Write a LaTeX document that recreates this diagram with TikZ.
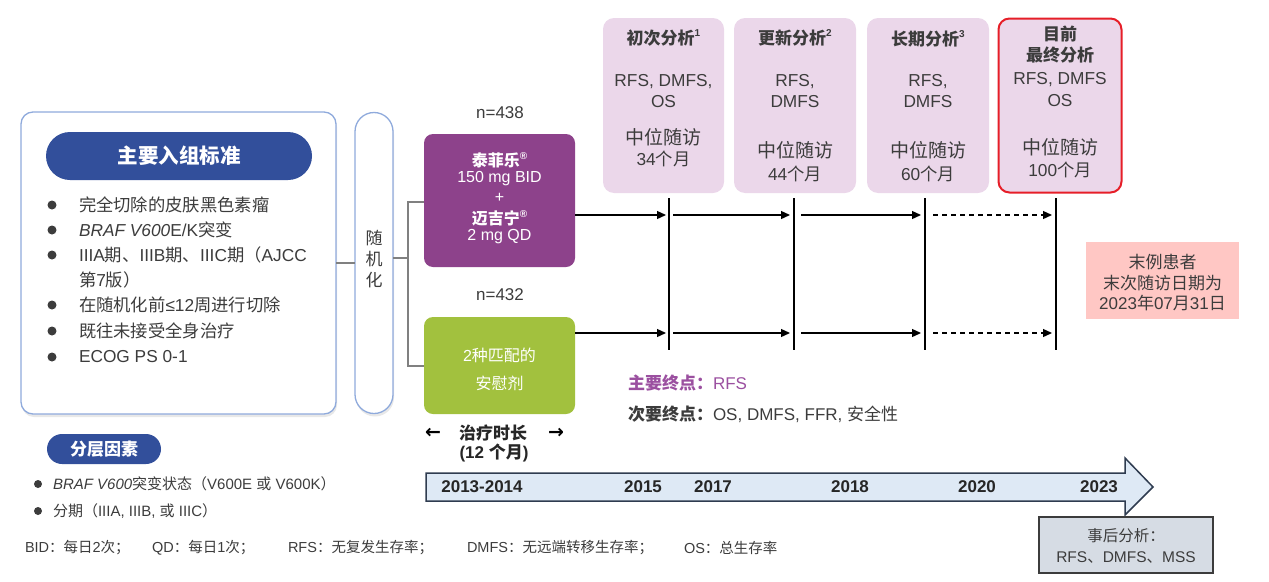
\documentclass[tikz,border=0pt]{standalone}
\usepackage{fontspec}
\setmainfont{Liberation Sans}
\newfontfamily\cjkfont{Noto Sans CJK SC}
\newfontfamily\symfont{DejaVu Sans}
\XeTeXinterchartokenstate=1
\newXeTeXintercharclass\cjkclass
\newcount\cjkcnt
\cjkcnt="3000 \loop\XeTeXcharclass\cjkcnt=\cjkclass\advance\cjkcnt by 1 \ifnum\cjkcnt<"3040 \repeat
\cjkcnt="4E00 \loop\XeTeXcharclass\cjkcnt=\cjkclass\advance\cjkcnt by 1 \ifnum\cjkcnt<"A000 \repeat
\cjkcnt="FF00 \loop\XeTeXcharclass\cjkcnt=\cjkclass\advance\cjkcnt by 1 \ifnum\cjkcnt<"FFF0 \repeat
\XeTeXinterchartoks 0 \cjkclass = {\begingroup\cjkfont}
\XeTeXinterchartoks 4095 \cjkclass = {\begingroup\cjkfont}
\XeTeXinterchartoks \cjkclass 0 = {\endgroup}
\XeTeXinterchartoks \cjkclass 4095 = {\endgroup}
\usetikzlibrary{shadows,arrows.meta}
\definecolor{txt}{RGB}{60,60,60}
\definecolor{bordBlue}{RGB}{143,170,220}
\definecolor{titleBlue}{RGB}{50,79,155}
\definecolor{purp}{RGB}{141,66,139}
\definecolor{grn}{RGB}{162,193,62}
\definecolor{anaFill}{RGB}{235,215,234}
\definecolor{redB}{RGB}{230,30,40}
\definecolor{pinkF}{RGB}{255,199,196}
\definecolor{tlFill}{RGB}{222,233,245}
\definecolor{tlDraw}{RGB}{47,60,80}
\definecolor{phFill}{RGB}{214,220,228}
\definecolor{phDraw}{RGB}{60,60,60}
\definecolor{connGray}{RGB}{128,128,128}
\definecolor{epPurp}{RGB}{155,80,160}
\newcommand\fsz[1]{\fontsize{#1}{#1}\selectfont}
\newcommand\sups[1]{\raisebox{0.45em}{\fontsize{10}{10}\selectfont #1}}
\begin{document}
\begin{tikzpicture}[x=1pt,y=-1pt,
  every node/.style={inner sep=0pt,outer sep=0pt,text=txt},
  conn/.style={draw=connGray,line width=2.8pt},
  arr/.style={draw=black,line width=1.3pt,-{Triangle[length=9pt,width=8pt]}},
  darr/.style={arr,dash pattern=on 5pt off 4pt},
  vline/.style={draw=black,line width=2.3pt},
  abox/.style={fill=anaFill,rounded corners=11pt,minimum height=175pt},
  pillbox/.style={fill=titleBlue,text=white},
  shd/.style={drop shadow={opacity=0.18,shadow xshift=1pt,shadow yshift=-3pt}},
  ltxt/.style={anchor=west,font=\fsz{17.3}},
  wtxt/.style={text=white,font=\fsz{16}},
  btxt/.style={text=white,font=\bfseries\fsz{16}},
  atxt/.style={font=\fsz{17.3}},
  yr/.style={text=black!85,font=\bfseries\fsz{17}},
  small/.style={anchor=west,font=\fsz{14.5}}]
\useasboundingbox (0,0) rectangle (1269,581);

% ---------- inclusion criteria ----------
\node[draw=bordBlue,line width=1.3pt,fill=white,rounded corners=12pt,minimum width=315pt,minimum height=302pt,shd] (crit) at (178.5,263) {};
\node[pillbox,rounded corners=24pt,minimum width=266pt,minimum height=48pt,font=\bfseries\fsz{20.5}] (crittitle) at (179,156) {主要入组标准};
\foreach \y in {205,230,255,305,331,357} \fill[txt] (52,\y) circle (4.5pt);
\node[ltxt] (c1) at (79,205) {完全切除的皮肤黑色素瘤};
\node[ltxt] (c2) at (79,230) {\textit{BRAF V600}E/K突变};
\node[ltxt] (c3) at (79,255) {IIIA期、IIIB期、IIIC期（AJCC};
\node[ltxt] (c3b) at (79,280) {第7版）};
\node[ltxt] (c4) at (79,305) {在随机化前≤12周进行切除};
\node[ltxt] (c5) at (79,331) {既往未接受全身治疗};
\node[ltxt] (c6) at (79,357) {ECOG PS 0-1};

% ---------- randomisation ----------
\node[draw=bordBlue,line width=1.3pt,fill=white,rounded corners=19pt,minimum width=38pt,minimum height=301pt,shd] (rand) at (374,263) {};
\node[align=center,font=\fontsize{17}{21}\selectfont] (randtxt) at (374,259) {随\\机\\化};

% ---------- arms ----------
\node[fill=purp,rounded corners=9pt,minimum width=151pt,minimum height=133pt] (trt) at (499.5,200.5) {};
\node[btxt] (trt1) at (499.5,160) {泰菲乐\sups{®}};
\node[wtxt] (trt2) at (499.5,179) {150 mg BID};
\node[wtxt] (trt3) at (499.5,198) {+};
\node[btxt] (trt4) at (499.5,218) {迈吉宁\sups{®}};
\node[wtxt] (trt5) at (499.5,237) {2 mg QD};
\node[font=\fsz{17}] (n1) at (500,113) {n=438};
\node[font=\fsz{17}] (n2) at (500,295) {n=432};
\node[fill=grn,rounded corners=9pt,minimum width=151pt,minimum height=97pt] (pbo) at (499.5,365.5) {};
\node[wtxt] (pbo1) at (499.5,355) {2种匹配的};
\node[wtxt] (pbo2) at (499.5,383) {安慰剂};

% connectors randomisation
\coordinate (br) at (408,258);
\coordinate (bt) at (408,202);
\coordinate (bb) at (408,366);
\draw[conn] (crit.east) -- (rand.west);
\draw[conn] (rand.east |- br) -- (br);
\draw[conn,line join=miter] (trt.west |- bt) -- (bt) -- (bb) -- (pbo.west |- bb);

% ---------- analysis boxes ----------
\node[abox,minimum width=121pt] (a1) at (663.5,105.5) {};
\node[abox,minimum width=122pt] (a2) at (795,105.5) {};
\node[abox,minimum width=122pt] (a3) at (928,105.5) {};
\node[abox,draw=redB,line width=2pt,minimum width=123pt,minimum height=174pt] (a4) at (1060,105.5) {};

\node[font=\bfseries\fsz{17}] (a1t) at (663.5,38) {初次分析\sups{1}};
\node[atxt] (a1a) at (663.5,82) {RFS, DMFS,};
\node[atxt] (a1b) at (663.5,102) {OS};
\node[font=\fsz{19}] (a1c) at (663.5,137) {中位随访};
\node[atxt] (a1d) at (663.5,159) {34个月};

\node[font=\bfseries\fsz{17}] (a2t) at (795,38) {更新分析\sups{2}};
\node[atxt] (a2a) at (795,82) {RFS,};
\node[atxt] (a2b) at (795,102) {DMFS};
\node[font=\fsz{19}] (a2c) at (795,150) {中位随访};
\node[atxt] (a2d) at (795,174) {44个月};

\node[font=\bfseries\fsz{17}] (a3t) at (928,39) {长期分析\sups{3}};
\node[atxt] (a3a) at (928,82) {RFS,};
\node[atxt] (a3b) at (928,102) {DMFS};
\node[font=\fsz{19}] (a3c) at (928,150) {中位随访};
\node[atxt] (a3d) at (928,174) {60个月};

\node[font=\bfseries\fsz{17}] (a4t) at (1060,34) {目前};
\node[font=\bfseries\fsz{17}] (a4u) at (1060,55) {最终分析};
\node[atxt] (a4a) at (1060,80) {RFS, DMFS};
\node[atxt] (a4b) at (1060,101) {OS};
\node[font=\fsz{19}] (a4c) at (1060,147) {中位随访};
\node[atxt] (a4d) at (1060,170) {100个月};

% ---------- vertical analysis lines ----------
\coordinate (v1t) at (669,198); \coordinate (v1b) at (669,350);
\coordinate (v2t) at (794,198); \coordinate (v2b) at (794,350);
\coordinate (v3t) at (925,198); \coordinate (v3b) at (925,350);
\coordinate (v4t) at (1056,198); \coordinate (v4b) at (1056,350);
\draw[vline] (v1t) -- (v1b);
\draw[vline] (v2t) -- (v2b);
\draw[vline] (v3t) -- (v3b);
\draw[vline] (v4t) -- (v4b);

% ---------- follow-up arrows ----------
\coordinate (t0) at (575,215); \coordinate (t1) at (666,215);
\coordinate (t2) at (673,215); \coordinate (t3) at (790,215);
\coordinate (t4) at (801,215); \coordinate (t5) at (921,215);
\coordinate (t6) at (933,215); \coordinate (t7) at (1052,215);
\coordinate (p0) at (575,333); \coordinate (p1) at (666,333);
\coordinate (p2) at (673,333); \coordinate (p3) at (790,333);
\coordinate (p4) at (801,333); \coordinate (p5) at (921,333);
\coordinate (p6) at (933,333); \coordinate (p7) at (1052,333);
\draw[arr] (t0) -- (t1);
\draw[arr] (t2) -- (t3);
\draw[arr] (t4) -- (t5);
\draw[darr] (t6) -- (t7);
\draw[arr] (p0) -- (p1);
\draw[arr] (p2) -- (p3);
\draw[arr] (p4) -- (p5);
\draw[darr] (p6) -- (p7);

% ---------- last patient box ----------
\node[fill=pinkF,minimum width=153pt,minimum height=77pt] (last) at (1162.5,280.5) {};
\node[font=\fsz{17}] (last1) at (1162.5,262) {末例患者};
\node[font=\fsz{17}] (last2) at (1162.5,283) {末次随访日期为};
\node[font=\fsz{17}] (last3) at (1162.5,303) {2023年07月31日};

% ---------- endpoints ----------
\node[anchor=west,font=\fsz{17},text=epPurp] (ep1) at (628,383) {{\bfseries 主要终点：}RFS};
\node[anchor=west,font=\fsz{17}] (ep2) at (628,414) {{\bfseries 次要终点：}OS, DMFS, FFR, 安全性};

% ---------- treatment duration ----------
\node[font=\symfont\bfseries\fsz{19},text=black] (dl) at (433,433) {←};
\node[font=\symfont\bfseries\fsz{19},text=black] (dr) at (556,433) {→};
\node[font=\bfseries\fsz{17},text=black!85] (dur1) at (493,433) {治疗时长};
\node[font=\bfseries\fsz{17},text=black!85] (dur2) at (494,453) {(12 个月)};

% ---------- timeline ----------
\draw[fill=tlFill,draw=tlDraw,line width=1.5pt,line join=miter] (426,473) -- (1125,473) -- (1125,458) -- (1153,487) -- (1125,515) -- (1125,501) -- (426,501) -- cycle;
\node[yr] (y0) at (482,487) {2013-2014};
\node[yr] (y1) at (643,487) {2015};
\node[yr] (y2) at (713,487) {2017};
\node[yr] (y3) at (850,487) {2018};
\node[yr] (y4) at (977,487) {2020};
\node[yr] (y5) at (1099,487) {2023};

% ---------- post hoc ----------
\node[draw=phDraw,line width=1.5pt,fill=phFill,minimum width=174pt,minimum height=56pt] (ph) at (1126,545) {};
\node[font=\fsz{15.5}] (ph1) at (1126,536) {事后分析：};
\node[font=\fsz{15.5}] (ph2) at (1126,558) {RFS、DMFS、MSS};

% ---------- stratification ----------
\node[pillbox,rounded corners=15pt,minimum width=114pt,minimum height=30pt,font=\bfseries\fsz{17}] (strat) at (104,449) {分层因素};
\fill[txt] (38,484) circle (4pt);
\fill[txt] (38,511) circle (4pt);
\node[anchor=west,font=\fsz{15}] (s1) at (53,484) {\textit{BRAF V600}突变状态（V600E 或 V600K）};
\node[anchor=west,font=\fsz{15}] (s2) at (53,511) {分期（IIIA, IIIB, 或 IIIC）};

% ---------- footnote ----------
\node[small] (f1) at (25,548) {BID：每日2次；};
\node[small] (f2) at (152,548) {QD：每日1次；};
\node[small] (f3) at (288,548) {RFS：无复发生存率；};
\node[small] (f4) at (467,548) {DMFS：无远端转移生存率；};
\node[small] (f5) at (684,548) {OS：总生存率};
\end{tikzpicture}
\end{document}
